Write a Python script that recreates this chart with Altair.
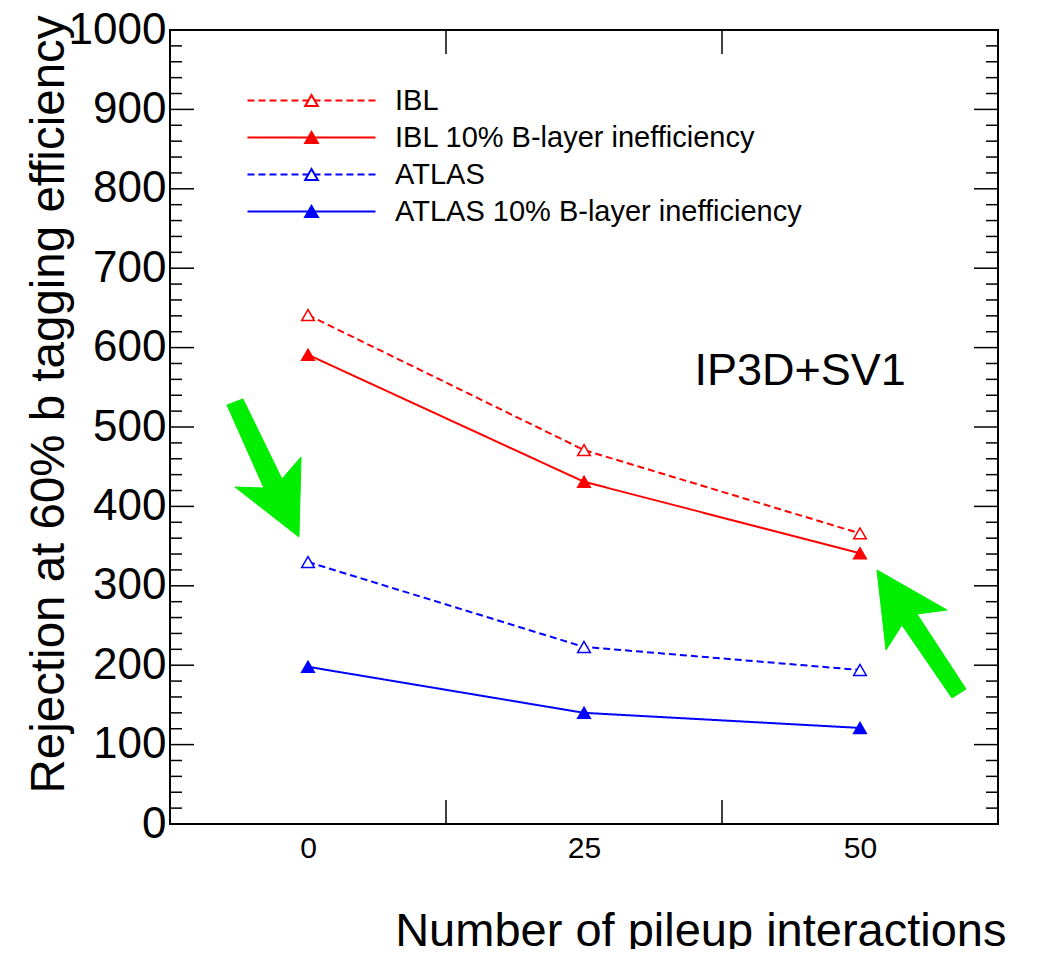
import altair as alt
import pandas as pd

FONT = "Liberation Sans"

# ---- data ----
pileup = [0, 25, 50]
ibl = [641, 471, 366]
ibl_ineff = [591, 431, 341]
atlas = [330, 223, 194]
atlas_ineff = [198, 140, 121]

series_names = ["IBL", "IBL 10% B-layer inefficiency", "ATLAS", "ATLAS 10% B-layer inefficiency"]
series_colors = ["#ff0000", "#ff0000", "#0000ff", "#0000ff"]
series_fill = ["#ffffff", "#ff0000", "#ffffff", "#0000ff"]
series_dash = [[7, 4], [1, 0], [7, 4], [1, 0]]

# axis ticks
x_tick_labels = [0, 25, 50]
x_major_ticks = [12.5, 37.5]
y_tick_labels = [0, 100, 200, 300, 400, 500, 600, 700, 800, 900, 1000]
y_minor_ticks = [20, 40, 60, 80, 120, 140, 160, 180, 220, 240, 260, 280, 320, 340, 360, 380,
                 420, 440, 460, 480, 520, 540, 560, 580, 620, 640, 660, 680, 720, 740, 760, 780,
                 820, 840, 860, 880, 920, 940, 960, 980]

# annotation: green arrows (data coordinates)
arrow1_x = [-7.34, -5.89, -2.36, -0.63, -0.82, -6.61, -3.99]
arrow1_y = [527.7, 535.3, 434.5, 462.2, 361.5, 424.4, 423.2]
arrow2_x = [51.54, 57.88, 55.16, 59.60, 58.33, 53.80, 52.36]
arrow2_y = [319.9, 269.5, 264.5, 170.0, 158.7, 250.6, 219.1]

label_text = ["IP3D+SV1"]
label_x = [35.0]
label_y = [553]

W, H = 828, 794

rows = []
for name, vals in zip(series_names, [ibl, ibl_ineff, atlas, atlas_ineff]):
    for p, v in zip(pileup, vals):
        rows.append({"x": p, "y": v, "series": name, "series_pt": name + " "})
df = pd.DataFrame(rows)
pt_names = [n + " " for n in series_names]


def x_enc():
    return alt.X("x:Q",
                 scale=alt.Scale(domain=[-12.5, 62.5], nice=False, zero=False),
                 axis=alt.Axis(values=x_tick_labels, grid=False, ticks=False, domain=False,
                               labelFontSize=30, labelFont=FONT, labelColor="black",
                               labelPadding=9, labelFlush=False, format="d",
                               title="Number of pileup interactions", titleFont=FONT,
                               titleFontSize=47, titleFontWeight="normal", titleColor="black",
                               titleX=836, titleY=121, titleAlign="right",
                               titleBaseline="alphabetic"))


def y_enc():
    return alt.Y("y:Q",
                 scale=alt.Scale(domain=[0, 1000], nice=False, zero=True),
                 axis=alt.Axis(values=y_tick_labels, grid=False, ticks=False, domain=False,
                               labelFontSize=44, labelFont=FONT, labelColor="black",
                               labelPadding=4, labelFlush=False, format="d",
                               title="Rejection at 60% b tagging efficiency", titleFont=FONT,
                               titleFontSize=47.5, titleFontWeight="normal", titleColor="black",
                               titleX=-121, titleY=374, titleAngle=-90, titleAlign="center",
                               titleBaseline="middle"))


LEG_X = 127
LEG_Y = 56

line_legend = alt.Legend(orient="none", legendX=LEG_X, legendY=LEG_Y, title=None,
                         symbolType="M-10.67,0L10.67,0", symbolSize=144, symbolStrokeWidth=2,
                         labelFontSize=29, labelFont=FONT, labelColor="black",
                         labelOffset=69, rowPadding=7, padding=0, labelLimit=600)

pt_legend = alt.Legend(orient="none", legendX=LEG_X, legendY=LEG_Y, title=None,
                       symbolType="triangle-up", symbolSize=160, symbolStrokeWidth=2,
                       labelFontSize=29, labelFont=FONT, labelOpacity=0,
                       labelOffset=69, rowPadding=7, padding=0, labelLimit=600)

lines = alt.Chart(df).mark_line(strokeWidth=2).encode(
    x=x_enc(), y=y_enc(),
    color=alt.Color("series:N", scale=alt.Scale(domain=series_names, range=series_colors),
                    legend=line_legend, sort=series_names),
    strokeDash=alt.StrokeDash("series:N", scale=alt.Scale(domain=series_names, range=series_dash),
                              legend=line_legend, sort=series_names),
)

points = alt.Chart(df).mark_point(shape="triangle-up", size=160, filled=True,
                                  strokeWidth=1.5, opacity=1).encode(
    x=x_enc(), y=y_enc(),
    stroke=alt.Stroke("series_pt:N", scale=alt.Scale(domain=pt_names, range=series_colors),
                      legend=pt_legend, sort=pt_names),
    fill=alt.Fill("series_pt:N", scale=alt.Scale(domain=pt_names, range=series_fill),
                  legend=pt_legend, sort=pt_names),
)

# ROOT-style inward ticks
left_major = alt.Chart(pd.DataFrame({"y": y_tick_labels})).mark_rule(color="black", strokeWidth=1.5).encode(
    y=y_enc(), x=alt.value(0), x2=alt.value(24))
right_major = alt.Chart(pd.DataFrame({"y": y_tick_labels})).mark_rule(color="black", strokeWidth=1.5).encode(
    y=y_enc(), x=alt.value(W - 24), x2=alt.value(W))
left_minor = alt.Chart(pd.DataFrame({"y": y_minor_ticks})).mark_rule(color="black", strokeWidth=1.5).encode(
    y=y_enc(), x=alt.value(0), x2=alt.value(12))
right_minor = alt.Chart(pd.DataFrame({"y": y_minor_ticks})).mark_rule(color="black", strokeWidth=1.5).encode(
    y=y_enc(), x=alt.value(W - 12), x2=alt.value(W))
bottom_major = alt.Chart(pd.DataFrame({"x": x_major_ticks})).mark_rule(color="black", strokeWidth=1.5).encode(
    x=x_enc(), y=alt.value(H - 24), y2=alt.value(H))
top_major = alt.Chart(pd.DataFrame({"x": x_major_ticks})).mark_rule(color="black", strokeWidth=1.5).encode(
    x=x_enc(), y=alt.value(0), y2=alt.value(24))

arrows_df = pd.DataFrame(
    [{"x": x, "y": y, "arrow": "a1", "i": i} for i, (x, y) in enumerate(zip(arrow1_x, arrow1_y))] +
    [{"x": x, "y": y, "arrow": "a2", "i": i} for i, (x, y) in enumerate(zip(arrow2_x, arrow2_y))]
)
arrows = alt.Chart(arrows_df).mark_line(fill="#00ee00", stroke="#00ee00", strokeWidth=1,
                                        interpolate="linear-closed").encode(
    x=x_enc(), y=y_enc(), detail="arrow:N", order="i:Q")

label = alt.Chart(pd.DataFrame({"x": label_x, "y": label_y, "t": label_text})).mark_text(
    align="left", baseline="alphabetic", fontSize=45, font=FONT, color="black").encode(
    x=x_enc(), y=y_enc(), text="t:N")

chart = alt.layer(
    arrows, left_major, right_major, left_minor, right_minor, bottom_major, top_major,
    lines, points, label
).properties(
    width=W, height=H,
    autosize=alt.AutoSizeParams(type="none"),
    padding={"left": 162, "top": 22, "right": 25, "bottom": 125},
    background="white",
).configure_view(
    stroke="black", strokeWidth=2
)

chart.save("out.html", embed_options={"renderer": "svg", "actions": False})
